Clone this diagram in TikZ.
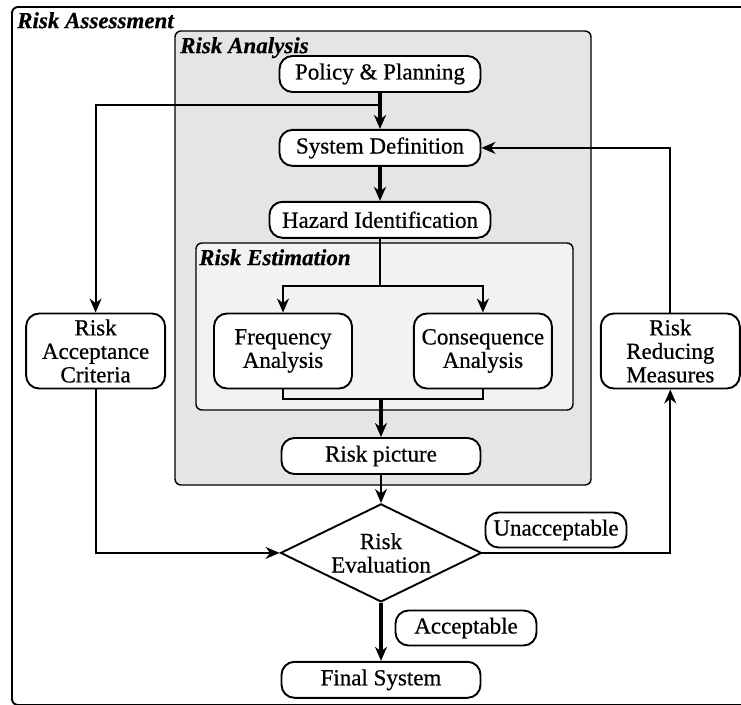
\documentclass[tikz,border=0pt]{standalone}
\usepackage{fontspec}
\setmainfont{Liberation Serif}[FakeBold=0.6]
\usetikzlibrary{positioning}
\usetikzlibrary{shapes.geometric}
\usetikzlibrary{arrows.meta}

\tikzset{
  box/.style={draw, line width=1.9pt, rounded corners=13pt, fill=white,
    minimum height=36pt, inner sep=2pt, align=center},
  tag/.style={box, minimum height=35pt, minimum width=141pt},
  dec/.style={draw, diamond, line width=1.9pt, fill=white, align=center,
    minimum width=201pt, minimum height=98pt, shape aspect=2.05, inner sep=0pt},
  title/.style={anchor=north west, inner sep=0pt,
    font=\fontsize{23}{23.5}\selectfont\bfseries\itshape},
  flow/.style={line width=2pt, -{Stealth[length=14pt,width=12pt,inset=4.5pt]}},
  mainflow/.style={flow, line width=3.2pt},
}

\begin{document}
\begin{tikzpicture}[x=1pt, y=-1pt, font=\fontsize{23}{23.5}\selectfont]
\useasboundingbox (0,0) rectangle (741,704);

% frames
\draw[line width=1.9pt, rounded corners=6pt] (12,7) rectangle (800,705);
\draw[line width=1.4pt, rounded corners=6pt, fill=black!10] (175,31) rectangle (591,485);
\draw[line width=1.4pt, rounded corners=6pt, fill=black!5] (196,243) rectangle (573,410);
\node[title] (ra-t) at (17,12) {Risk Assessment};
\node[title] (an-t) at (180,37) {Risk Analysis};
\node[title] (es-t) at (199,249) {Risk Estimation};

% main chain
\node[box, minimum width=201pt] (pol) at (380,74) {Policy \& Planning};
\node[box, minimum width=201pt, below=36pt of pol] (sys) {System Definition};
\node[box, minimum width=221pt, below=34pt of sys] (haz) {Hazard Identification};
\draw[mainflow] (pol) -- (sys);
\draw[mainflow] (sys) -- (haz);

% frequency / consequence
\node[box, minimum width=138pt, minimum height=75pt] (freq) at (283,351) {Frequency\\Analysis};
\node[box, minimum width=138pt, minimum height=75pt, right=60pt of freq] (cons) {Consequence\\Analysis};
\coordinate[below=47pt of haz.south] (split);
\draw[line width=2pt] (haz) -- (split);
\draw[flow] (split) -| (freq);
\draw[flow] (split) -| (cons);

% risk picture
\node[box, minimum width=199pt] (rpic) at (381,456) {Risk picture};
\coordinate[below=10pt of freq.south] (join);
\draw[line width=2pt] (freq) -- (join) -| (cons);
\draw[mainflow] (join -| rpic) -- (rpic);

% evaluation
\node[dec, below=28pt of rpic] (eval) {Risk\\Evaluation};
\draw[flow] (rpic) -- (eval);
\node[box, minimum width=199pt, below=58pt of eval] (fin) {Final System};
\draw[mainflow] (eval) -- (fin);
\node[tag] (acc) at (466,628) {Acceptable};
\node[tag] (una) at (556,530) {Unacceptable};

% side loops
\node[box, minimum width=139pt, minimum height=75pt, left=47pt of freq] (rac) {Risk\\Acceptance\\Criteria};
\node[box, minimum width=139pt, minimum height=75pt, right=47pt of cons] (rrm) {Risk\\Reducing\\Measures};
\coordinate[below=12pt of pol.south] (br);
\draw[flow] (br) -| (rac);
\draw[flow] (rac) |- (eval);
\draw[flow] (eval) -| (rrm);
\draw[flow] (rrm) |- (sys);
\end{tikzpicture}
\end{document}
